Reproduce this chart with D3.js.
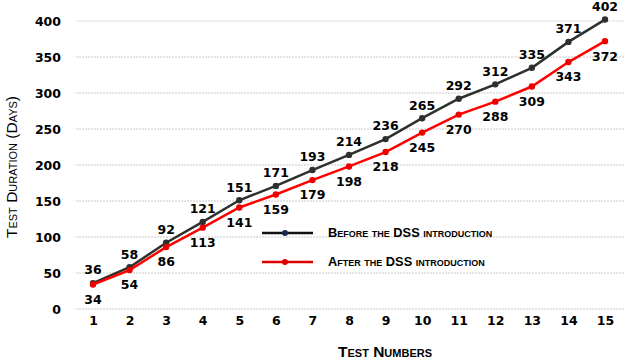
<!DOCTYPE html>
<html><head><meta charset="utf-8">
<script src="https://cdn.jsdelivr.net/npm/d3@7"></script>
<style>body{margin:0;background:#fff}svg{display:block}</style>
</head><body><svg id="c" width="628" height="363"></svg>
<script>
const categories = ["1","2","3","4","5","6","7","8","9","10","11","12","13","14","15"];
const beforeDSS = [36,58,92,121,151,171,193,214,236,265,292,312,335,371,402];
const afterDSS  = [34,54,86,113,141,159,179,198,218,245,270,288,309,343,372];
const yTicks = [0,50,100,150,200,250,300,350,400];
const seriesNames = ["Before the DSS introduction","After the DSS introduction"];

const svg = d3.select("#c");
const x = d3.scalePoint().domain(categories).range([93,605]);
const y = d3.scaleLinear().domain([0,400]).range([309,21]);
const font = "'DejaVu Sans', Verdana, sans-serif";
const fs = 12.5;

// gridlines
svg.append("g").selectAll("line").data(yTicks).join("line")
  .attr("x1",76).attr("x2",624).attr("y1",d=>y(d)).attr("y2",d=>y(d))
  .attr("stroke",d=>d===400?"#e0e0e0":"#c8c8c8").attr("stroke-width",1)
  .attr("stroke-dasharray",d=>d===400?null:"2,1");

// y axis labels
const ya = svg.append("g").attr("transform","translate(61,0)")
  .call(d3.axisLeft(y).tickValues(yTicks).tickSize(0).tickPadding(0));
ya.select(".domain").remove();
ya.selectAll("text").attr("font-family",font).attr("font-weight","bold").attr("font-size",fs).attr("fill","#000");

// x axis labels
const xa = svg.append("g").attr("transform","translate(0,316)")
  .call(d3.axisBottom(x).tickSize(0).tickPadding(0));
xa.select(".domain").remove();
xa.selectAll("text").attr("font-family",font).attr("font-weight","bold").attr("font-size",fs).attr("fill","#000");

// titles
const tfont = "'Liberation Sans Narrow','Liberation Sans', Arial, sans-serif";
svg.append("text").attr("x",385).attr("y",357).attr("text-anchor","middle")
  .attr("font-family",tfont).attr("font-weight","bold").attr("font-size",15.5)
  .style("font-variant","small-caps").text("Test Numbers");
svg.append("text").attr("transform","translate(17,167) rotate(-90)").attr("text-anchor","middle")
  .attr("font-family",tfont).attr("font-size",15.5)
  .style("font-variant","small-caps").text("Test Duration (Days)");

const line = d3.line().x((d,i)=>x(categories[i])).y(d=>y(d));
const series = [
  {vals:beforeDSS, color:"#2d312d", marker:"#2d312d", legMarker:"#1a2a4a", dy:-13},
  {vals:afterDSS, color:"#ff0000", marker:"#ee0000", legMarker:"#dd0000", dy:15}
];
series.forEach((s,si)=>{
  svg.append("path").datum(s.vals).attr("d",line).attr("fill","none")
    .attr("stroke",s.color).attr("stroke-width",2.5);
  svg.append("g").selectAll("circle").data(s.vals).join("circle")
    .attr("cx",(d,i)=>x(categories[i])).attr("cy",d=>y(d)).attr("r",3.2).attr("fill",s.marker);
  svg.append("g").selectAll("text").data(s.vals).join("text")
    .attr("x",(d,i)=>x(categories[i]))
    .attr("y",d=> y(d) + s.dy)
    .attr("dy","0.35em").attr("text-anchor","middle")
    .attr("font-family",font).attr("font-weight","bold").attr("font-size",fs).attr("fill","#000")
    .text(d=>d);
  // legend
  const ly = 233 + si*29;
  svg.append("line").attr("x1",262).attr("x2",313).attr("y1",ly).attr("y2",ly)
    .attr("stroke",si===0?"#111":"#dd0000").attr("stroke-width",2.5);
  svg.append("circle").attr("cx",285).attr("cy",ly).attr("r",3).attr("fill",s.legMarker);
  svg.append("text").attr("x",328).attr("y",ly).attr("dy","0.35em")
    .attr("font-family",tfont).attr("font-weight","bold").attr("font-size",12.8)
    .style("font-variant","small-caps").attr("fill","#000").text(seriesNames[si]);
});
</script></body></html>
